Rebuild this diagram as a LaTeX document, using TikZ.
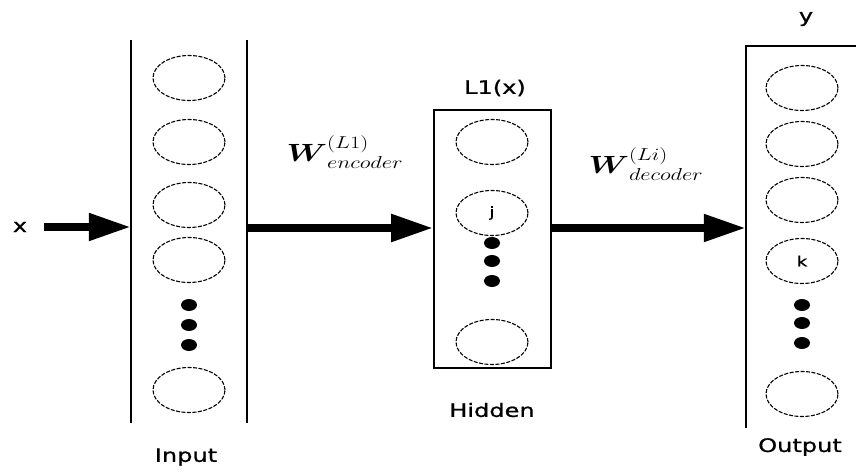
\documentclass[tikz,border=0pt]{standalone}
\usepackage{fontspec}
\usepackage{amsmath}
\usetikzlibrary{arrows.meta,shapes.geometric}
\newfontfamily\lblfont{DejaVu Sans}[FakeStretch=1.3,FakeBold=1]
\newcommand\wide[1]{\scalebox{1.3}[1]{#1}}

\tikzset{
  layer/.style={rectangle,inner sep=0pt},
  frame/.style={line width=1.6pt},
  unit/.style={ellipse,draw,dash pattern=on 4pt off 1.5pt,line width=1.1pt,minimum width=72pt,minimum height=45pt,inner sep=0pt,font=\lblfont\fontsize{14}{14}\selectfont},
  dot/.style={ellipse,fill=black,minimum width=16pt,minimum height=12pt,inner sep=0pt},
  lbl/.style={font=\lblfont\fontsize{18.5}{18.5}\selectfont,inner sep=0pt},
  wlbl/.style={font=\fontsize{27}{27}\selectfont,inner sep=0pt},
  flow/.style={line width=8pt,-{Triangle[length=42pt,width=26pt]}}
}

\begin{document}
\begin{tikzpicture}[x=1pt,y=-1pt]
\useasboundingbox (0,0) rectangle (856,473);

% layers
\node[layer,minimum width=116pt,minimum height=383pt] (input) at (189,231.5) {};
\node[layer,draw,frame,minimum width=117pt,minimum height=258pt] (hidden) at (492.5,239) {};
\node[layer,minimum width=110pt,minimum height=382pt] (output) at (801,237) {};
\draw[frame] (input.north west) -- (input.south west);
\draw[frame] (input.north east) -- (input.south east);
\draw[frame] (output.north east) -- (output.north west) -- (output.south west);

% units
\foreach \y/\n in {78/1,142/2,205/3,260/4,390/5}
  \node[unit] (in\n) at (189,\y) {};
\foreach \y/\n in {305/1,325/2,345/3}
  \node[dot] (indot\n) at (189,\y) {};

\node[unit] (hid1) at (492,142) {};
\node[unit] (hid2) at (492,213) {j};
\node[unit] (hid3) at (492,342) {};
\foreach \y/\n in {243/1,261/2,281/3}
  \node[dot] (hiddot\n) at (492,\y) {};

\foreach \y/\n/\t in {88/1/,144/2/,200/3/,261/4/k,394/5/}
  \node[unit] (out\n) at (802,\y) {\t};
\foreach \y/\n in {305/1,323/2,343/3}
  \node[dot] (outdot\n) at (802,\y) {};

% labels
\node[lbl] (xin) at (20,227) {x};
\node[lbl] (inlbl) at (186,457) {Input};
\node[lbl] (hidlbl) at (492,410) {Hidden};
\node[lbl] (outlbl) at (800,447) {Output};
\node[lbl] (l1) at (495,88) {L1(x)};
\node[lbl] (ylbl) at (806,19) {y};
\node[wlbl] (wenc) at (345,152) {\wide{$\boldsymbol{W}^{(L1)}_{encoder}$}};
\node[wlbl] (wdec) at (646,164) {\wide{$\boldsymbol{W}^{(Li)}_{decoder}$}};

% connections
\coordinate (row) at (0,228);
\draw[flow,shorten <=17pt] (xin.east) -- (xin.east -| input.west);
\draw[flow] (input.east |- row) -- (hidden.west |- row);
\draw[flow] (hidden.east |- row) -- (output.west |- row);
\end{tikzpicture}
\end{document}
